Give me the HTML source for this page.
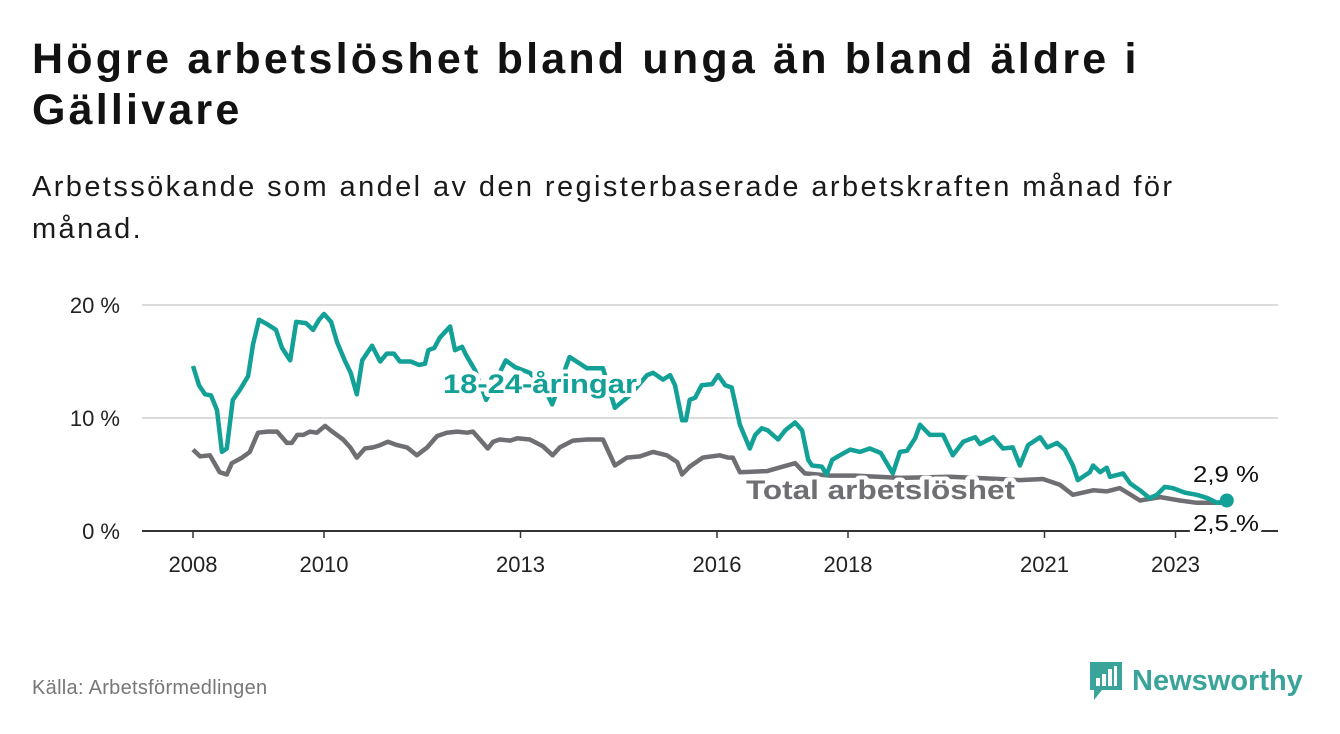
<!DOCTYPE html>
<html><head><meta charset="utf-8"><style>
body{margin:0;width:1340px;height:734px;background:#fff;font-family:"Liberation Sans","DejaVu Sans",sans-serif;overflow:hidden;position:relative;color:#111}
h1{position:absolute;left:32px;top:34px;margin:0;font-size:43px;letter-spacing:3.2px;line-height:51px;font-weight:bold;width:1180px;color:#121212}
.sub{position:absolute;left:32px;top:166px;font-size:29px;letter-spacing:2.4px;line-height:42px;width:1200px;color:#1a1a1a}
.src{position:absolute;left:32px;top:677px;font-size:20px;letter-spacing:0.3px;color:#777}
.logo{position:absolute;left:1088px;top:660px;display:flex;align-items:center;gap:8px;font-size:29px;font-weight:bold;color:#3aa39a}
</style></head><body>
<h1>Högre arbetslöshet bland unga än bland äldre i Gällivare</h1>
<div class="sub">Arbetssökande som andel av den registerbaserade arbetskraften månad för månad.</div>
<svg id="chart" width="1340" height="734" style="position:absolute;left:0;top:0"></svg>
<div class="src">Källa: Arbetsförmedlingen</div>
<div class="logo"><svg width="36" height="42" viewBox="0 0 36 42"><path d="M2 2h32v28H14l-8 10v-10H2z" fill="#3aa39a"/><rect x="8" y="18" width="4" height="8" fill="#fff"/><rect x="14" y="14" width="4" height="12" fill="#fff"/><rect x="20" y="9" width="4" height="17" fill="#fff"/><rect x="26" y="6" width="3" height="20" fill="#fff"/></svg><span>Newsworthy</span></div>
<script>
const youthMonths=[0,1.1,2.2,3.3,4.4,5.3,6.2,7.3,8.6,10.1,11,12.1,13.6,15.2,16.3,17.8,18.9,20.7,22,23.1,24,25.3,26.4,27.8,28.9,30,31,32.8,34.3,35.5,36.8,37.9,39.9,41.4,42.5,43.1,44.2,45.2,47.1,48,49.3,50,51.7,53.7,57.3,59,61.7,64.5,65.8,69,72.2,75.1,77.3,80,83.2,84.3,86.1,87.4,88.3,89.6,90.3,91,92,93.2,95.1,96.2,97.5,98.7,100.2,102,103,104.2,105.3,107.2,108.5,110.3,111.6,112.7,113.4,115.2,116.1,117.1,118.5,120.4,122.2,124,126,128.2,129.5,130.8,132.3,133.2,135,137.4,139.2,141.1,143.3,144.2,146.6,148.4,150.2,151.5,153,155.2,156.5,158.3,159.7,161.2,162.1,164.3,164.9,166.2,167.4,168,170.4,171.7,173.5,175.3,176.6,178,179.5,181.7,183.9,185.9,187.6,189.4];
const youthValues=[14.6,12.9,12.1,12.0,10.7,7.0,7.3,11.6,12.5,13.7,16.5,18.7,18.3,17.8,16.2,15.1,18.5,18.4,17.8,18.7,19.2,18.5,16.7,15.1,14.0,12.1,15.1,16.4,15.0,15.7,15.7,15.0,15.0,14.7,14.8,16.0,16.2,17.1,18.1,16.0,16.3,15.6,14.2,11.6,15.1,14.5,14.0,12.5,11.2,15.4,14.4,14.4,10.9,12.0,13.8,14.0,13.4,13.8,12.9,9.8,9.8,11.6,11.8,12.9,13.0,13.8,12.9,12.7,9.4,7.3,8.5,9.1,8.9,8.1,8.9,9.6,8.9,6.3,5.8,5.7,5.0,6.3,6.7,7.2,7.0,7.3,6.9,5.1,7.0,7.1,8.2,9.4,8.5,8.5,6.7,7.9,8.3,7.7,8.3,7.3,7.4,5.8,7.6,8.3,7.4,7.8,7.2,5.8,4.5,5.2,5.8,5.2,5.6,4.8,5.1,4.2,3.6,2.9,3.2,3.9,3.8,3.4,3.2,2.9,2.5,2.7,2.9];
const totalMonths=[0,1.3,3.1,4.9,6.2,7.1,9,10.4,11.9,13.7,15.4,17.2,18.1,19.1,20.2,21.4,22.7,24.2,25.5,27.5,28.8,30,31.5,33,34.3,35.7,37.4,39.2,41,42.9,44.7,46.5,48.4,50.2,51.3,54,55,56.2,58.1,59.4,61.7,64.1,65.9,67.2,69.6,72.2,75.1,77.3,79.5,81.9,84.3,86.8,88.7,89.6,91,93.4,96.5,98,98.9,100.2,105.2,108.1,110.3,112.1,116.7,121.3,129.5,138.7,147.8,151.5,155.7,158.8,161.2,164.9,167.4,169.8,173.5,177.2,180.8,183.9,186.9,189.4];
const totalValues=[7.2,6.6,6.7,5.2,5.0,6.0,6.5,7.0,8.7,8.8,8.8,7.8,7.8,8.5,8.5,8.8,8.7,9.3,8.8,8.1,7.4,6.5,7.3,7.4,7.6,7.9,7.6,7.4,6.7,7.4,8.4,8.7,8.8,8.7,8.8,7.3,7.9,8.1,8.0,8.2,8.1,7.5,6.7,7.4,8.0,8.1,8.1,5.8,6.5,6.6,7.0,6.7,6.1,5.0,5.7,6.5,6.7,6.5,6.5,5.2,5.3,5.7,6.0,5.1,4.9,4.9,4.7,4.8,4.6,4.5,4.6,4.1,3.2,3.6,3.5,3.8,2.7,3.0,2.7,2.5,2.5,2.5];
const tickYears=[2008,2010,2013,2016,2018,2021,2023];
const yTicks=[0,10,20];
const yTickLabels=["0 %","10 %","20 %"];
const lastYouthLabel="2,9 %", lastTotalLabel="2,5 %";

const svg=document.getElementById('chart');
const NS='http://www.w3.org/2000/svg';
const X=m=>193+m*(65.5/12);
const Y=v=>531-v*11.3;
function mk(t,a,p){const e=document.createElementNS(NS,t);for(const k in a)e.setAttribute(k,a[k]);(p||svg).appendChild(e);return e;}
yTicks.forEach((v,i)=>{
  if(v>0){const g=mk('line',{x1:142,x2:1278,y1:Y(v),y2:Y(v),stroke:'#dcdcdc','stroke-width':2});
  
  }
  const t=mk('text',{x:120,y:Y(v)+8,'text-anchor':'end','font-size':22,fill:'#222'});t.textContent=yTickLabels[i];
  
  
});
const base=mk('line',{x1:142,x2:1278,y1:531,y2:531,stroke:'#333','stroke-width':2});


tickYears.forEach(yr=>{
  const x=X((yr-2008)*12);
  mk('line',{x1:x,x2:x,y1:531,y2:538,stroke:'#333','stroke-width':1.5});
  const t=mk('text',{x:x,y:572,'text-anchor':'middle','font-size':22,fill:'#222'});t.textContent=yr;
  
  
});
function path(ms,vs){return ms.map((m,i)=>(i?'L':'M')+X(m).toFixed(1)+','+Y(vs[i]).toFixed(1)).join('');}
const tl=mk('path',{d:path(totalMonths,totalValues),fill:'none',stroke:'#6f6e72','stroke-width':4.5,'stroke-linejoin':'round'});


const yl=mk('path',{d:path(youthMonths,youthValues),fill:'none',stroke:'#13a197','stroke-width':4.5,'stroke-linejoin':'round'});


const n=youthMonths.length-1;
const dot=mk('circle',{cx:X(youthMonths[n]),cy:Y(youthValues[n]),r:7,fill:'#13a197'});


function lab(txt,x,y,fill,w,size,len,name){const t=mk('text',{x:x,y:y,'font-size':size,'font-weight':w,fill:fill,stroke:'#fff','stroke-width':8,'paint-order':'stroke','stroke-linejoin':'round',textLength:len,lengthAdjust:'spacingAndGlyphs'});t.textContent=txt;
  
  }
lab('18-24-åringar',443,393,'#13a197','bold',27,194,'youth-series-label');
lab('Total arbetslöshet',746,499,'#6f6e72','bold',27,269,'total-series-label');
lab(lastYouthLabel,1193,482,'#111','normal',23,66,'youth-end-value');
lab(lastTotalLabel,1193,531,'#111','normal',23,66,'total-end-value');
</script>
</body></html>
